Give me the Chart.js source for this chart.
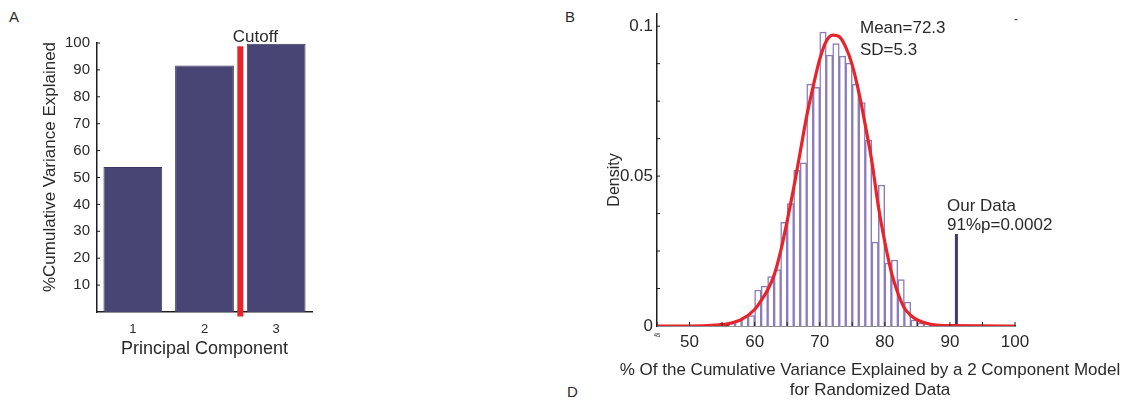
<!DOCTYPE html>
<html>
<head>
<meta charset="utf-8">
<script src="https://cdn.jsdelivr.net/npm/chart.js@4.4.1/dist/chart.umd.min.js"></script>
<style>
  html, body { margin: 0; padding: 0; background: #fff; }
  body { width: 1148px; height: 402px; position: relative; overflow: hidden;
         font-family: 'Liberation Sans', Arial, sans-serif; color: #2a2a2a; }
  .panel { position: absolute; }
  .letter { position: absolute; font-size: 15px; line-height: 17px; }
</style>
</head>
<body>
<div class="letter" style="left:9px;top:8px">A</div>
<div class="letter" style="left:565px;top:8px">B</div>
<div class="letter" style="left:567px;top:383px">D</div>
<div class="panel" style="left:0;top:0"><canvas id="pcaChart" width="330" height="380"></canvas></div>
<div class="panel" style="left:560px;top:0"><canvas id="histChart" width="588" height="402"></canvas></div>
<script>
// panel A - cumulative variance per principal component
const components = [1, 2, 3];
const cumVariance = [53.9, 91.6, 99.7];
const cutoffAt = 2.5;
const pcaTicks = [10, 20, 30, 40, 50, 60, 70, 80, 90, 100];

// panel B - histogram of randomized data (bin left edges, density)
const binEdges = [56, 57, 58, 59, 60, 61, 62, 63, 64, 65, 66, 67, 68, 69, 70, 71,
                  72, 73, 74, 75, 76, 77, 78, 79, 80, 81, 82, 83, 84, 85, 86, 87];
const binDensity = [0.0008, 0.002, 0.003, 0.0035, 0.012, 0.0133, 0.0165, 0.0188,
                    0.0346, 0.0408, 0.052, 0.0544, 0.0807, 0.0796, 0.098, 0.0904,
                    0.0942, 0.090, 0.0877, 0.0807, 0.0745, 0.062, 0.028, 0.047,
                    0.021, 0.022, 0.0155, 0.008, 0.002, 0.001, 0.0007, 0.0003];

// fitted curve
const curveX = [45, 50, 54, 56, 58, 60, 61, 62, 63, 64, 65, 66, 67, 68, 69, 70, 71,
                72, 73, 74, 75, 76, 77, 78, 79, 80, 81, 82, 83, 84, 85, 87, 90, 100];
const curveY = [0, 0, 0.0003, 0.0008, 0.0022, 0.0055, 0.0085, 0.012, 0.017, 0.025,
                0.035, 0.046, 0.058, 0.070, 0.080, 0.089, 0.095, 0.097, 0.0965, 0.093,
                0.087, 0.078, 0.067, 0.055, 0.040, 0.028, 0.018, 0.011, 0.006, 0.0035,
                0.002, 0.0006, 0.0001, 0];

const ourDataValue = 91;
const ourDataHeight = 0.0307;
const histXTicks = [45, 50, 55, 60, 65, 70, 75, 80, 85, 90, 95, 100];
const histXLabels = [50, 60, 70, 80, 90, 100];
const histYTicks = [0, 0.05, 0.1];
const histYMinor = [0.0125, 0.025, 0.0375, 0.05, 0.0625, 0.075, 0.0875, 0.1];

const TEXT = '#2a2a2a';
const AXIS = '#1e1e1e';
const FONT = "'Liberation Sans', Arial, sans-serif";

function fixedWidth(w) { return scale => { scale.width = w; }; }
function fixedHeight(h) { return scale => { scale.height = h; }; }

function rotatedText(ctx, text, x, y) {
    ctx.save();
    ctx.translate(x, y);
    ctx.rotate(-Math.PI / 2);
    ctx.fillText(text, 0, 0);
    ctx.restore();
}

new Chart(document.getElementById('pcaChart'), {
    type: 'bar',
    data: {
        datasets: [{
            type: 'line',
            data: [{ x: cutoffAt, y: -1.7 }, { x: cutoffAt, y: 98.8 }],
            borderColor: '#e8232a',
            borderWidth: 6,
            pointRadius: 0,
            clip: false
        }, {
            data: components.map((c, i) => ({ x: c, y: cumVariance[i] })),
            backgroundColor: '#484574',
            borderColor: '#3a3860',
            borderWidth: 1,
            barPercentage: 0.82,
            categoryPercentage: 1
        }]
    },
    options: {
        responsive: false,
        animation: false,
        layout: { padding: { left: 0, top: 43, right: 18, bottom: 0 } },
        plugins: { legend: { display: false }, tooltip: { enabled: false } },
        scales: {
            x: {
                type: 'linear', min: 0.5, max: 3.5, offset: false,
                afterBuildTicks: s => { s.ticks = components.map(v => ({ value: v })); },
                afterFit: fixedHeight(68),
                grid: { display: false, drawTicks: false },
                border: { display: true, color: AXIS, width: 1.5 },
                ticks: { color: TEXT, font: { family: FONT, size: 13 }, padding: 10 }
            },
            y: {
                min: 0, max: 100,
                afterBuildTicks: s => { s.ticks = pcaTicks.map(v => ({ value: v })); },
                afterFit: fixedWidth(97),
                grid: { display: false, drawTicks: false },
                border: { display: true, color: AXIS, width: 1.5 },
                ticks: { color: TEXT, font: { family: FONT, size: 15 }, padding: 7 }
            }
        }
    },
    plugins: [{
        id: 'pcaText',
        afterDraw(chart) {
            const { ctx, chartArea: a, scales: { x, y } } = chart;
            ctx.save();
            ctx.strokeStyle = AXIS;
            ctx.lineWidth = 1;
            pcaTicks.forEach(v => {
                const py = y.getPixelForValue(v);
                ctx.beginPath(); ctx.moveTo(a.left, py); ctx.lineTo(a.left + 3, py); ctx.stroke();
            });
            ctx.fillStyle = TEXT;
            ctx.textAlign = 'center';
            ctx.textBaseline = 'middle';
            ctx.font = `17px ${FONT}`;
            ctx.fillText('Cutoff', x.getPixelForValue(cutoffAt) + 15, a.top - 6);
            ctx.font = `18px ${FONT}`;
            ctx.fillText('Principal Component', (a.left + a.right) / 2, a.bottom + 37);
            ctx.font = `17px ${FONT}`;
            rotatedText(ctx, '%Cumulative Variance Explained', 50, 167);
            ctx.restore();
        }
    }]
});

new Chart(document.getElementById('histChart'), {
    type: 'bar',
    data: {
        datasets: [{
            type: 'line',
            data: curveX.map((v, i) => ({ x: v, y: curveY[i] })),
            borderColor: '#e8232a',
            borderWidth: 3.2,
            pointRadius: 0,
            cubicInterpolationMode: 'monotone'
        }, {
            type: 'line',
            data: [{ x: ourDataValue, y: 0 }, { x: ourDataValue, y: ourDataHeight }],
            borderColor: '#3c3a7c',
            borderWidth: 3,
            pointRadius: 0
        }, {
            data: binEdges.map((e, i) => ({ x: e + 0.5, y: binDensity[i] })),
            backgroundColor: '#ffffff',
            borderColor: '#8b7cbc',
            borderWidth: 1.5,
            barPercentage: 1,
            categoryPercentage: 1,
            grouped: false
        }]
    },
    options: {
        responsive: false,
        animation: false,
        layout: { padding: { left: 0, top: 8, right: 133, bottom: 0 } },
        plugins: { legend: { display: false }, tooltip: { enabled: false } },
        scales: {
            x: {
                type: 'linear', min: 45, max: 100, offset: false,
                afterBuildTicks: s => { s.ticks = [45].concat(histXLabels).map(v => ({ value: v })); },
                afterFit: fixedHeight(76),
                grid: { display: false, drawTicks: false },
                border: { display: true, color: AXIS, width: 1.5 },
                ticks: {
                    color: TEXT, padding: 6,
                    font: c => ({ family: FONT, size: c.tick && c.tick.value === 45 ? 6 : 17 })
                }
            },
            y: {
                min: 0, max: 0.104,
                afterBuildTicks: s => { s.ticks = histYTicks.map(v => ({ value: v })); },
                afterFit: fixedWidth(97),
                grid: { display: false, drawTicks: false },
                border: { display: true, color: AXIS, width: 1.5 },
                ticks: { color: TEXT, font: { family: FONT, size: 17 }, padding: 4,
                         callback: v => String(v) }
            }
        }
    },
    plugins: [{
        id: 'histText',
        afterDraw(chart) {
            const { ctx, chartArea: a, scales: { x, y } } = chart;
            ctx.save();
            ctx.strokeStyle = AXIS;
            ctx.lineWidth = 1;
            histXTicks.forEach(v => {
                const px = x.getPixelForValue(v);
                ctx.beginPath(); ctx.moveTo(px, a.bottom); ctx.lineTo(px, a.bottom - 4); ctx.stroke();
            });
            histYMinor.forEach(v => {
                const py = y.getPixelForValue(v);
                ctx.beginPath(); ctx.moveTo(a.left, py); ctx.lineTo(a.left + 3, py); ctx.stroke();
            });
            ctx.fillStyle = TEXT;
            ctx.textBaseline = 'middle';
            ctx.textAlign = 'left';
            ctx.font = `17px ${FONT}`;
            ctx.fillText('Mean=72.3', 300, 28);
            ctx.fillText('SD=5.3', 300, 50);
            ctx.fillText('Our Data', 387, 206);
            ctx.fillText('91%p=0.0002', 387, 225);
            ctx.font = `12px ${FONT}`;
            ctx.fillText('-', a.right - 1, 20);
            ctx.textAlign = 'center';
            ctx.font = `16px ${FONT}`;
            rotatedText(ctx, 'Density', 55, 180);
            ctx.font = `17px ${FONT}`;
            ctx.fillText('% Of the Cumulative Variance Explained by a 2 Component Model', 310, 370);
            ctx.fillText('for Randomized Data', 310, 390);
            ctx.restore();
        }
    }]
});
</script>
</body>
</html>
